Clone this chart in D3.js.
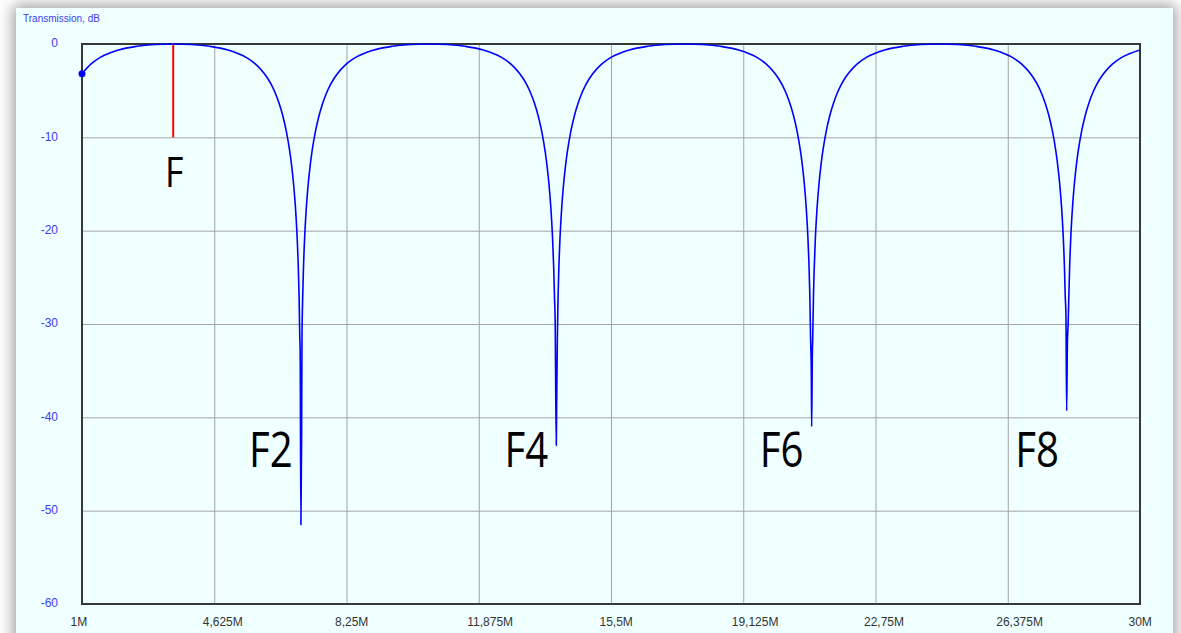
<html lang="en">
<head>
  <meta charset="UTF-8" />
  <title>Transmission</title>
  <script src="https://d3js.org/d3.v7.min.js"></script>
  <style>
    body {
      margin: 0;
      background-color: #ffffff;
      overflow: hidden;
    }
    #panel {
      position: absolute;
      left: 16px;
      top: 8px;
      width: 1157px;
      height: 660px;
      background-color: #f0ffff;
      box-shadow: 0 0 14px 3px rgba(0, 0, 0, 0.38);
    }
    svg {
      position: absolute;
      left: 0;
      top: 0;
      font-family: "Liberation Sans", Arial, sans-serif;
    }
    .gridlines .domain,
    .axis .domain {
      display: none;
    }
    .gridlines line {
      stroke: #a3a3a3;
      stroke-width: 1px;
    }
  </style>
</head>
<body>
  <div id="panel"></div>
  <svg id="chart" width="1181" height="633"></svg>
  <script>
    // frequency in MHz, transmission in dB
    const transmission = [
      [1, -3.18], [1.25, -2.13], [1.5, -1.44], [2, -0.64], [2.5, -0.25], [3, -0.06], [3.5, 0],
      [4, -0.06], [4.5, -0.25], [5, -0.64], [5.5, -1.44], [5.75, -2.13], [6, -3.18], [6.1, -3.75],
      [6.2, -4.43], [6.3, -5.27], [6.4, -6.32], [6.5, -7.64], [6.6, -9.34], [6.7, -11.65],
      [6.75, -13.16], [6.8, -15.03], [6.85, -17.48], [6.9, -20.97], [6.93, -24.05], [6.95, -26.96],
      [6.97, -31.4], [6.98, -32.8], [7.0, -51.5], [7.02, -42.0], [7.03, -31.4],
      [7.05, -26.96], [7.07, -24.05], [7.1, -20.97], [7.15, -17.48], [7.2, -15.03], [7.25, -13.16],
      [7.3, -11.65], [7.4, -9.34], [7.5, -7.64], [7.6, -6.32], [7.7, -5.27], [7.8, -4.43],
      [7.9, -3.75], [8, -3.18], [8.25, -2.13], [8.5, -1.44], [9, -0.64], [9.5, -0.25], [10, -0.06],
      [10.5, 0],
      [11, -0.06], [11.5, -0.25], [12, -0.64], [12.5, -1.44], [12.75, -2.13], [13, -3.18],
      [13.1, -3.75], [13.2, -4.43], [13.3, -5.27], [13.4, -6.32], [13.5, -7.64], [13.6, -9.34],
      [13.7, -11.65], [13.75, -13.16], [13.8, -15.03], [13.85, -17.48], [13.9, -20.97],
      [13.93, -24.05], [13.95, -26.96], [13.97, -29.8], [13.98, -34.6], [14.0, -43.0],
      [14.01, -38.9], [14.03, -31.4],
      [14.05, -26.96], [14.07, -24.05], [14.1, -20.97], [14.15, -17.48], [14.2, -15.03],
      [14.25, -13.16], [14.3, -11.65], [14.4, -9.34], [14.5, -7.64], [14.6, -6.32], [14.7, -5.27],
      [14.8, -4.43], [14.9, -3.75], [15, -3.18], [15.25, -2.13], [15.5, -1.44], [16, -0.64],
      [16.5, -0.25], [17, -0.06], [17.5, 0],
      [18, -0.06], [18.5, -0.25], [19, -0.64], [19.5, -1.44], [19.75, -2.13], [20, -3.18],
      [20.1, -3.75], [20.2, -4.43], [20.3, -5.27], [20.4, -6.32], [20.5, -7.64], [20.6, -9.34],
      [20.7, -11.65], [20.75, -13.16], [20.8, -15.03], [20.85, -17.48], [20.9, -20.97],
      [20.93, -24.05], [20.95, -26.96], [20.97, -31.4], [20.99, -35.1], [21.0, -41.0],
      [21.02, -33.0], [21.03, -31.4],
      [21.05, -26.96], [21.07, -24.05], [21.1, -20.97], [21.15, -17.48], [21.2, -15.03],
      [21.25, -13.16], [21.3, -11.65], [21.4, -9.34], [21.5, -7.64], [21.6, -6.32], [21.7, -5.27],
      [21.8, -4.43], [21.9, -3.75], [22, -3.18], [22.25, -2.13], [22.5, -1.44], [23, -0.64],
      [23.5, -0.25], [24, -0.06], [24.5, 0],
      [25, -0.06], [25.5, -0.25], [26, -0.64], [26.5, -1.44], [26.75, -2.13], [27, -3.18],
      [27.1, -3.75], [27.2, -4.43], [27.3, -5.27], [27.4, -6.32], [27.5, -7.64], [27.6, -9.34],
      [27.7, -11.65], [27.75, -13.16], [27.8, -15.03], [27.85, -17.48], [27.9, -20.97],
      [27.93, -24.05], [27.95, -26.96], [27.97, -29.0], [27.99, -39.3], [28.01, -32.0],
      [28.03, -30.0],
      [28.05, -26.96], [28.07, -24.05], [28.1, -20.97], [28.15, -17.48], [28.2, -15.03],
      [28.25, -13.16], [28.3, -11.65], [28.4, -9.34], [28.5, -7.64], [28.6, -6.32], [28.7, -5.27],
      [28.8, -4.43], [28.9, -3.75], [29, -3.18], [29.25, -2.13], [29.5, -1.44], [30, -0.64]
    ];

    const xTickValues = [1, 4.625, 8.25, 11.875, 15.5, 19.125, 22.75, 26.375, 30];
    const xTickLabels = ["1M", "4,625M", "8,25M", "11,875M", "15,5M", "19,125M", "22,75M", "26,375M", "30M"];
    const yTickValues = [0, -10, -20, -30, -40, -50, -60];

    const markerFreq = 3.5;
    const markerDepth = -10;
    const markerLabel = "F";
    const notchFreqs = [7, 14, 21, 28];
    const notchLabels = ["F2", "F4", "F6", "F8"];

    const svg = d3.select("svg#chart");
    const margin = { top: 44, right: 41, bottom: 29, left: 82 };
    const width = +svg.attr("width");
    const height = +svg.attr("height");
    const chartWidth = width - margin.left - margin.right;
    const chartHeight = height - margin.top - margin.bottom;

    const x = d3.scaleLinear().domain([1, 30]).range([margin.left, margin.left + chartWidth]);
    const y = d3.scaleLinear().domain([-60, 0]).range([margin.top + chartHeight, margin.top]);

    // gridlines
    svg.append("g")
      .attr("class", "gridlines")
      .attr("transform", `translate(0,${margin.top + chartHeight})`)
      .call(d3.axisBottom(x).tickValues(xTickValues.slice(1, -1)).tickSize(-chartHeight).tickFormat(""));

    svg.append("g")
      .attr("class", "gridlines")
      .attr("transform", `translate(${margin.left},0)`)
      .call(d3.axisLeft(y).tickValues(yTickValues.slice(1, -1)).tickSize(-chartWidth).tickFormat(""));

    // frame
    svg.append("rect")
      .attr("x", margin.left)
      .attr("y", margin.top)
      .attr("width", chartWidth)
      .attr("height", chartHeight)
      .attr("fill", "none")
      .attr("stroke", "#383838")
      .attr("stroke-width", 2);

    // bottom labels
    let bottomAxisG = svg.append("g")
      .attr("class", "axis")
      .attr("transform", `translate(0,${margin.top + chartHeight})`)
      .call(d3.axisBottom(x).tickValues(xTickValues).tickSize(0).tickFormat((d, i) => xTickLabels[i]));
    bottomAxisG.selectAll("text")
      .attr("text-anchor", "start")
      .attr("x", -12)
      .attr("y", 13)
      .attr("font-size", 12)
      .attr("font-family", "Liberation Sans, Arial, sans-serif")
      .attr("fill", "#333333");

    // left labels (plain hyphen, as in the original)
    let leftAxisG = svg.append("g")
      .attr("class", "axis")
      .attr("transform", `translate(${margin.left},-1)`)
      .call(d3.axisLeft(y).tickValues(yTickValues).tickSize(0).tickPadding(24).tickFormat((d) => String(d)));
    leftAxisG.selectAll("text")
      .attr("font-size", 12)
      .attr("font-family", "Liberation Sans, Arial, sans-serif")
      .attr("fill", "#3b3bf2");

    svg.append("text")
      .attr("x", 23)
      .attr("y", 22)
      .attr("font-size", 10)
      .attr("fill", "#3b3bf2")
      .text("Transmission, dB");

    // red marker at F
    svg.append("line")
      .attr("x1", x(markerFreq))
      .attr("x2", x(markerFreq))
      .attr("y1", y(0))
      .attr("y2", y(markerDepth))
      .attr("stroke", "#ff0000")
      .attr("stroke-width", 2);

    // curve
    const line = d3.line()
      .x((d) => x(d[0]))
      .y((d) => y(d[1]))
      .curve(d3.curveMonotoneX);

    svg.append("path")
      .datum(transmission)
      .attr("d", line)
      .attr("fill", "none")
      .attr("stroke", "#0000ff")
      .attr("stroke-width", 1.6);

    svg.append("circle")
      .attr("cx", x(transmission[0][0]))
      .attr("cy", y(transmission[0][1]))
      .attr("r", 3.5)
      .attr("fill", "#0000ff");

    // big labels
    const labelFont = "Open Sans, Noto Sans, sans-serif";
    svg.append("g")
      .attr("transform", `translate(${x(markerFreq) + 1},${y(-15.3)}) scale(0.85,1)`)
      .append("text")
      .attr("text-anchor", "middle")
      .attr("font-family", labelFont)
      .attr("font-size", 42)
      .attr("fill", "#000")
      .text(markerLabel);

    notchFreqs.forEach((f, i) => {
      svg.append("g")
        .attr("transform", `translate(${x(f) - 30},${y(-45.3)}) scale(0.82,1)`)
        .append("text")
        .attr("text-anchor", "middle")
        .attr("font-family", labelFont)
        .attr("font-size", 49)
        .attr("fill", "#000")
        .text(notchLabels[i]);
    });
  </script>
</body>
</html>
